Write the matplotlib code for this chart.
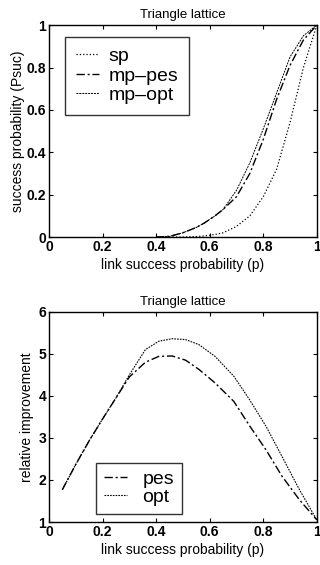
import matplotlib.pyplot as plt

plt.rcParams['font.family'] = ['Liberation Sans', 'DejaVu Sans']

# top panel: success probability vs link success probability
p_top = [0.40, 0.45, 0.50, 0.55, 0.58, 0.62, 0.65, 0.70, 0.75, 0.80, 0.85, 0.90, 0.95, 1.00]
sp = [0.0, 0.0, 0.0, 0.002, 0.005, 0.012, 0.02, 0.05, 0.10, 0.19, 0.32, 0.54, 0.80, 1.00]
mp_pes = [0.0, 0.003, 0.02, 0.045, 0.066, 0.10, 0.13, 0.19, 0.30, 0.46, 0.65, 0.81, 0.93, 1.00]
mp_opt = [0.0, 0.003, 0.02, 0.045, 0.066, 0.10, 0.13, 0.22, 0.35, 0.51, 0.68, 0.85, 0.95, 1.00]

# bottom panel: relative improvement
p_bot = [0.05, 0.10, 0.15, 0.20, 0.25, 0.30, 0.36, 0.41, 0.46, 0.51, 0.56, 0.62, 0.69, 0.75, 0.81, 0.87, 0.935, 1.00]
pes = [1.77, 2.37, 2.93, 3.45, 3.95, 4.45, 4.80, 4.94, 4.95, 4.85, 4.63, 4.31, 3.87, 3.28, 2.72, 2.09, 1.53, 1.05]
opt = [1.77, 2.37, 2.93, 3.45, 3.95, 4.50, 5.10, 5.30, 5.36, 5.34, 5.22, 4.94, 4.47, 3.90, 3.28, 2.56, 1.77, 1.05]

fig = plt.figure(figsize=(3.2, 5.65), dpi=100)

def style(ax):
    ax.tick_params(direction='in', top=True, right=True, labelsize=10, length=3, width=0.8, pad=2)
    for lbl in ax.get_xticklabels() + ax.get_yticklabels():
        lbl.set_fontweight('bold')
    for s in ax.spines.values():
        s.set_linewidth(1.0)

ax1 = fig.add_axes([0.153, 0.5805, 0.837, 0.375])
ax1.plot(p_top, sp, color='black', linestyle=':', linewidth=0.9, label='sp')
ax1.plot(p_top, mp_pes, color='black', linestyle=(0, (6, 2, 1.5, 2)), linewidth=1.0, label='mp\u2013pes')
ax1.plot(p_top, mp_opt, color='black', linestyle=(0, (2, 1)), linewidth=0.7, label='mp\u2013opt')
ax1.set_xlim(0, 1)
ax1.set_ylim(0, 1)
ax1.set_xticks([0, 0.2, 0.4, 0.6, 0.8, 1])
ax1.set_xticklabels(['0', '0.2', '0.4', '0.6', '0.8', '1'])
ax1.set_yticks([0, 0.2, 0.4, 0.6, 0.8, 1])
ax1.set_yticklabels(['0', '0.2', '0.4', '0.6', '0.8', '1'])
ax1.set_title('Triangle lattice', fontsize=9.5, pad=5)
ax1.set_xlabel('link success probability (p)', fontsize=10, labelpad=3)
ax1.set_ylabel('success probability (Psuc)', fontsize=10, labelpad=1)
leg1 = ax1.legend(loc='upper left', bbox_to_anchor=(0.06, 0.945), fontsize=14,
                  frameon=True, fancybox=False, edgecolor='black', handlelength=1.2,
                  borderpad=0.55, labelspacing=0.1, handletextpad=0.5, borderaxespad=0)
leg1.get_frame().set_linewidth(1.0)
style(ax1)

ax2 = fig.add_axes([0.153, 0.0761, 0.837, 0.372])
ax2.plot(p_bot, pes, color='black', linestyle=(0, (6, 2, 1.5, 2)), linewidth=1.0, label='pes')
ax2.plot(p_bot, opt, color='black', linestyle=(0, (1.5, 1)), linewidth=0.8, label='opt')
ax2.set_xlim(0, 1)
ax2.set_ylim(1, 6)
ax2.set_xticks([0, 0.2, 0.4, 0.6, 0.8, 1])
ax2.set_xticklabels(['0', '0.2', '0.4', '0.6', '0.8', '1'])
ax2.set_yticks([1, 2, 3, 4, 5, 6])
ax2.set_title('Triangle lattice', fontsize=9.5, pad=5)
ax2.set_xlabel('link success probability (p)', fontsize=10, labelpad=3)
ax2.set_ylabel('relative improvement', fontsize=10, labelpad=3)
leg2 = ax2.legend(loc='lower left', bbox_to_anchor=(0.175, 0.04), fontsize=14,
                  frameon=True, fancybox=False, edgecolor='black', handlelength=1.2,
                  borderpad=0.4, labelspacing=0.0, handletextpad=0.8, borderaxespad=0)
leg2.get_frame().set_linewidth(1.0)
style(ax2)

fig.savefig('out.png', dpi=100)
